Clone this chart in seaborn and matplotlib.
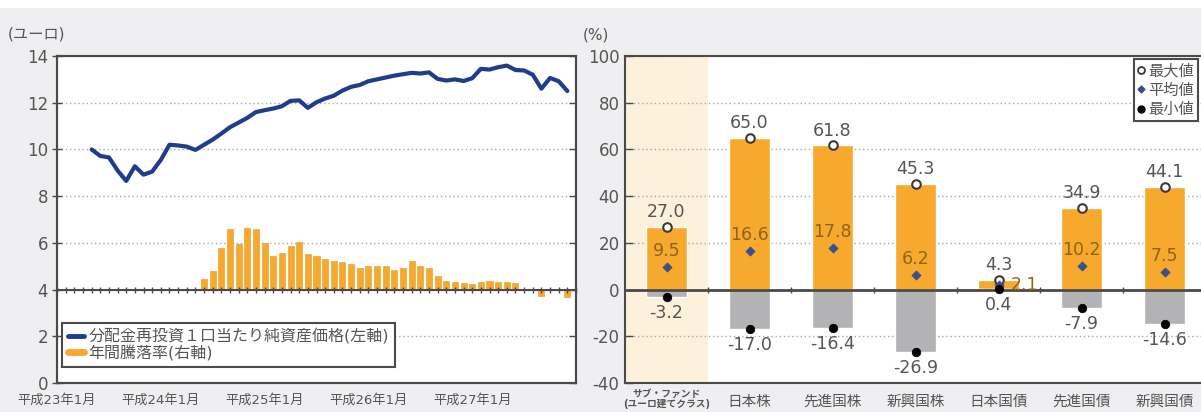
import numpy as np
import pandas as pd
import matplotlib
matplotlib.use("Agg")
import matplotlib.pyplot as plt
import seaborn as sns
from matplotlib.patches import Rectangle
from matplotlib.lines import Line2D
from matplotlib.transforms import ScaledTranslation

sns.set_theme(style="white")
plt.rcParams['font.family'] = ['DejaVu Sans', 'Noto Sans CJK JP']
plt.rcParams['axes.unicode_minus'] = False

# ---- left panel data -------------------------------------------------------
# NAV per unit with dividends reinvested (euro), monthly from 2011-05
nav_start = "2011-05"
nav_values = [10.00, 9.72, 9.66, 9.10, 8.65, 9.28, 8.92, 9.05, 9.55, 10.20,
              10.17, 10.12, 9.98, 10.20, 10.42, 10.68, 10.95, 11.15, 11.35, 11.60,
              11.68, 11.75, 11.85, 12.08, 12.10, 11.78, 12.02, 12.18, 12.30, 12.52,
              12.68, 12.76, 12.92, 13.00, 13.08, 13.16, 13.22, 13.28, 13.25, 13.30,
              13.02, 12.95, 13.00, 12.93, 13.05, 13.45, 13.42, 13.52, 13.59, 13.40,
              13.38, 13.20, 12.60, 13.06, 12.92, 12.50]
# one-year return (%), monthly from 2012-06
ret_start = "2012-06"
ret_values = [4.6, 7.9, 17.9, 25.8, 19.7, 26.5, 26.1, 19.9, 14.2, 15.6,
              18.5, 20.3, 15.1, 14.2, 13.2, 12.2, 11.7, 11.0, 9.2, 9.9,
              9.9, 9.9, 8.2, 9.3, 12.2, 9.9, 9.3, 5.6, 3.6, 3.1,
              2.7, 2.4, 3.4, 3.6, 3.4, 3.1, 2.9, 0.4, 0.3, -2.7,
              0.4, 0.3, -3.0]
axis_start = "2011-01"
axis_end = "2016-01"
year_labels = ["平成23年1月", "平成24年1月", "平成25年1月", "平成26年1月", "平成27年1月"]
legend_left = ["分配金再投資１口当たり純資産価格(左軸)", "年間騰落率(右軸)"]

# ---- right panel data ------------------------------------------------------
categories = ["サブ・ファンド\n(ユーロ建てクラス)", "日本株", "先進国株", "新興国株",
              "日本国債", "先進国債", "新興国債"]
max_vals = [27.0, 65.0, 61.8, 45.3, 4.3, 34.9, 44.1]
mean_vals = [9.5, 16.6, 17.8, 6.2, 2.1, 10.2, 7.5]
min_vals = [-3.2, -17.0, -16.4, -26.9, 0.4, -7.9, -14.6]
legend_right = ["最大値", "平均値", "最小値"]

# ---- styling ---------------------------------------------------------------
NAVY = "#1f3d8c"
ORANGE = "#f7a92e"
GRAY_BAR = "#b3b3b6"
TXT = "#555555"
MEAN_TXT = "#8f6416"
SPINE = "#4a4a4a"
GRID = "#a8a8a8"
BG = "#efeff1"

W, H = 1201, 412
fig = plt.figure(figsize=(W / 100, H / 100), dpi=100, facecolor=BG)
fig.add_artist(Rectangle((0, 1 - 8 / H), 1, 8 / H, transform=fig.transFigure,
                         facecolor="white", edgecolor="none"))


def box(x0, x1, y0, y1):
    return [x0 / W, 1 - y1 / H, (x1 - x0) / W, (y1 - y0) / H]


def month_index(period):
    return (pd.Period(period, "M") - pd.Period(axis_start, "M")).n


nav_x = np.arange(len(nav_values)) + month_index(nav_start)
ret_x = np.arange(len(ret_values)) + month_index(ret_start)
n_months = month_index(axis_end)

# ============================ left panel ====================================
ax = fig.add_axes(box(57, 576, 56, 383))
ax.set_facecolor("white")
ax2 = ax.twinx()

ax.set_zorder(2)
ax.patch.set_visible(False)
ax2.set_zorder(1)
ax2.patch.set_facecolor("white")
ax2.patch.set_visible(True)

ax2.bar(ret_x, ret_values, width=0.7, color=ORANGE, edgecolor="#e9961c",
        linewidth=0.4, zorder=2)
ax2.set_ylim(-40, 100)
ax2.set_yticks(np.arange(-40, 101, 20))
ax2.tick_params(axis="y", direction="in", length=5, labelright=False,
                color=SPINE, width=1)
ax2.yaxis.grid(True, linestyle=(0, (1, 2)), color=GRID, linewidth=1)
ax2.set_axisbelow(True)

sns.lineplot(x=nav_x, y=nav_values, ax=ax, color=NAVY, linewidth=3.0,
             zorder=4, legend=False)
ax.set_xlim(0, n_months)
ax.set_ylim(0, 14)
ax.set_yticks(np.arange(0, 15, 2))
ax.set_xticks(np.arange(0, n_months, 12))
ax.set_xticklabels(year_labels)
ax.tick_params(axis="y", direction="inout", length=7, width=1, color=SPINE,
               labelsize=12, labelcolor=TXT, pad=3)
ax.tick_params(axis="x", direction="in", length=8, width=1, color=SPINE,
               labelsize=9.5, labelcolor=TXT, pad=8)
ax.set_xlabel("")
ax.set_ylabel("")
for a in (ax, ax2):
    for s in a.spines.values():
        s.set_color(SPINE)
        s.set_linewidth(1.5)

# zero line of the return axis with a tick for every month
zero_l = ax2.secondary_xaxis(40 / 140)
zero_l.set_xticks(np.arange(0, n_months + 1))
zero_l.set_xticklabels([])
zero_l.tick_params(direction="inout", length=5, width=1, color=SPINE)
zero_l.spines["bottom"].set_color(SPINE)
zero_l.spines["bottom"].set_linewidth(1.5)
zero_l.set_zorder(3)

handles = [Line2D([], [], color=NAVY, linewidth=3.5),
           Line2D([], [], color=ORANGE, linewidth=5)]
leg = ax.legend(handles, legend_left, loc="lower left",
                bbox_to_anchor=(0.01, 0.05), borderaxespad=0, fontsize=11.5,
                frameon=True, fancybox=False, framealpha=1, edgecolor=SPINE,
                handlelength=1.0, handletextpad=0.3, labelspacing=0.05,
                borderpad=0.35, labelcolor=TXT)
leg.get_frame().set_linewidth(1.5)

fig.text(8 / W, 1 - 34 / H, "(ユーロ)", fontsize=11, color=TXT, va="center")

# ============================ right panel ===================================
axr = fig.add_axes(box(625, 1206, 56, 383))
axr.set_facecolor("white")
pos = np.arange(len(categories))

axr.axvspan(-0.5, 0.5, color="#fdf1dc", zorder=0, linewidth=0)

orange_base = [max(lo, 0) for lo in min_vals]
orange_h = [hi - b for hi, b in zip(max_vals, orange_base)]
gray_top = [min(hi, 0) for hi in max_vals]
gray_h = [t - lo for t, lo in zip(gray_top, min_vals)]

sns.barplot(x=categories, y=orange_h, bottom=orange_base, order=categories,
            color=ORANGE, saturation=1, width=0.5, errorbar=None, ax=axr,
            zorder=2)
sns.barplot(x=categories, y=gray_h, bottom=min_vals, order=categories,
            color=GRAY_BAR, saturation=1, width=0.5, errorbar=None, ax=axr,
            zorder=2)

sns.scatterplot(x=pos, y=max_vals, ax=axr, s=38, color="white",
                edgecolor="#3a3a3a", linewidth=1.5, zorder=5, legend=False)
sns.scatterplot(x=pos, y=mean_vals, ax=axr, s=22, color="#3b4f8e",
                edgecolor="#3b4f8e", linewidth=0.5, marker="D", zorder=5,
                legend=False)
sns.scatterplot(x=pos, y=min_vals, ax=axr, s=38, color="black",
                edgecolor="black", linewidth=0.5, zorder=5, legend=False)

for i in pos:
    axr.annotate(f"{max_vals[i]:.1f}", (i, max_vals[i]), xytext=(0, 4),
                 textcoords="offset points", ha="center", va="bottom",
                 fontsize=12.5, color=TXT, zorder=6)
    if max_vals[i] - mean_vals[i] < 5:
        axr.annotate(f"{mean_vals[i]:.1f}", (i, mean_vals[i]), xytext=(9, 0),
                     textcoords="offset points", ha="left", va="center",
                     fontsize=12.5, color=MEAN_TXT, zorder=6)
    else:
        axr.annotate(f"{mean_vals[i]:.1f}", (i, mean_vals[i]), xytext=(0, 5),
                     textcoords="offset points", ha="center", va="bottom",
                     fontsize=12.5, color=MEAN_TXT, zorder=6)
    axr.annotate(f"{min_vals[i]:.1f}", (i, min_vals[i]), xytext=(0, -5),
                 textcoords="offset points", ha="center", va="top",
                 fontsize=12.5, color=TXT, zorder=6)

axr.set_xlim(-0.5, len(categories) - 0.5)
axr.set_ylim(-40, 100)
axr.set_yticks(np.arange(-40, 101, 20))
axr.yaxis.grid(True, linestyle=(0, (1, 2)), color=GRID, linewidth=1)
axr.set_axisbelow(True)
axr.tick_params(axis="y", direction="in", length=6, width=1, color=SPINE,
                labelsize=12, labelcolor=TXT, pad=4, left=True)
axr.tick_params(axis="x", length=0, labelsize=10.5, labelcolor=TXT, pad=8)
axr.set_xticks(pos)
axr.set_xticklabels(categories)
first = axr.get_xticklabels()[0]
first.set_fontsize(7)
first.set_linespacing(0.95)
first.set_fontweight("bold")
first.set_transform(first.get_transform()
                    + ScaledTranslation(0, 5 / 100, fig.dpi_scale_trans))
axr.set_xlabel("")
axr.set_ylabel("")
for s in axr.spines.values():
    s.set_color(SPINE)
    s.set_linewidth(1.5)

zero_r = axr.secondary_xaxis(40 / 140)
zero_r.set_xticks(pos[:-1] + 0.5)
zero_r.set_xticklabels([])
zero_r.tick_params(direction="inout", length=5, width=1, color=SPINE)
zero_r.spines["bottom"].set_color(SPINE)
zero_r.spines["bottom"].set_linewidth(2)
zero_r.set_zorder(3)

rh = [Line2D([], [], linestyle="none", marker="o", markersize=5,
             markerfacecolor="white", markeredgecolor="#3a3a3a", markeredgewidth=1.3),
      Line2D([], [], linestyle="none", marker="D", markersize=3.5,
             markerfacecolor="#3b4f8e", markeredgecolor="#3b4f8e"),
      Line2D([], [], linestyle="none", marker="o", markersize=5,
             markerfacecolor="black", markeredgecolor="black")]
legr = axr.legend(rh, legend_right, loc="upper right",
                  bbox_to_anchor=(0.986, 0.99), borderaxespad=0, fontsize=11,
                  frameon=True, fancybox=False, framealpha=1, edgecolor=SPINE,
                  handlelength=0.5, handletextpad=0.2, labelspacing=0.3,
                  borderpad=0.25, labelcolor=TXT)
legr.get_frame().set_linewidth(1.5)

fig.text(583 / W, 1 - 35 / H, "(%)", fontsize=11, color=TXT, va="center")

fig.savefig("out.png", dpi=100, facecolor=BG)
